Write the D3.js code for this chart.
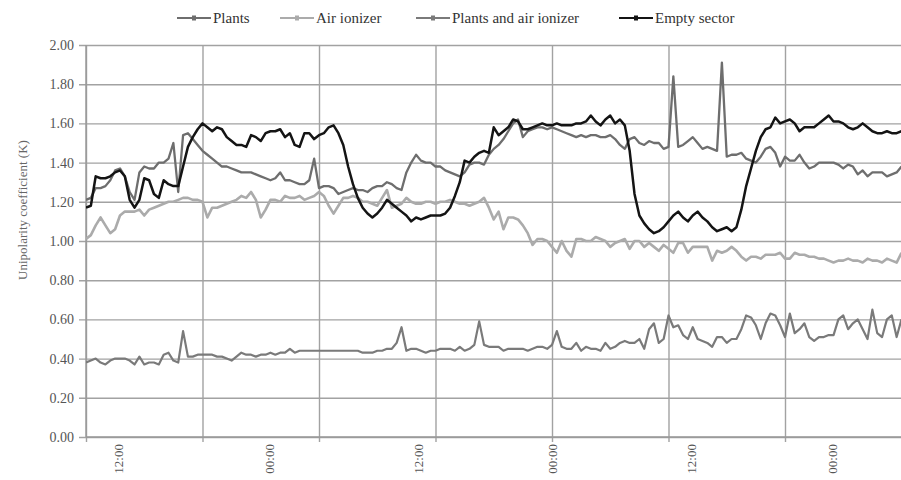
<!DOCTYPE html>
<html><head><meta charset="utf-8">
<script src="https://cdn.jsdelivr.net/npm/d3@7"></script>
<style>
html,body{margin:0;padding:0;background:#fff;}
svg{display:block;font-family:"Liberation Serif","Times New Roman",serif;}
</style></head>
<body>
<svg id="chart" width="901" height="480"></svg>
<script>
// ---- data (sample index 0..168) ----
const seriesNames = ["Plants", "Air ionizer", "Plants and air ionizer", "Empty sector"];
const yTickValues = [0,0.2,0.4,0.6,0.8,1.0,1.2,1.4,1.6,1.8,2.0];
const xTickLabels = ["12:00","00:00","12:00","00:00","12:00","00:00"];
const xLabelAt = [6.6, 37.7, 68.6, 96, 124.8, 153.7];
const xGridAt = [0,24,48,72,96,120,144,168];

const plants = [1.21,1.22,1.27,1.27,1.28,1.31,1.36,1.37,1.33,1.25,1.21,1.35,1.38,1.37,1.37,1.40,1.40,1.42,1.50,1.25,
1.54,1.55,1.52,1.49,1.46,1.44,1.42,1.40,1.38,1.38,1.37,1.36,1.35,1.35,1.35,1.34,1.33,1.32,1.31,1.32,
1.35,1.31,1.31,1.30,1.29,1.29,1.31,1.42,1.27,1.28,1.28,1.27,1.24,1.25,1.26,1.27,1.26,1.26,1.25,1.27,
1.28,1.28,1.30,1.29,1.27,1.26,1.35,1.40,1.44,1.41,1.40,1.40,1.38,1.38,1.36,1.35,1.34,1.33,1.35,1.39,
1.40,1.40,1.39,1.44,1.47,1.49,1.52,1.56,1.60,1.62,1.53,1.56,1.57,1.58,1.58,1.57,1.58,1.57,1.56,1.55,
1.54,1.53,1.54,1.53,1.54,1.54,1.53,1.53,1.54,1.52,1.49,1.47,1.52,1.53,1.50,1.49,1.51,1.50,1.50,1.47,
1.48,1.84,1.48,1.49,1.51,1.53,1.50,1.47,1.48,1.47,1.46,1.91,1.43,1.44,1.44,1.45,1.42,1.41,1.40,1.43,
1.47,1.48,1.45,1.38,1.43,1.41,1.41,1.44,1.40,1.37,1.38,1.40,1.40,1.40,1.40,1.39,1.37,1.39,1.38,1.34,
1.36,1.33,1.35,1.35,1.35,1.33,1.34,1.35,1.38];

const airIonizer = [1.01,1.03,1.08,1.12,1.08,1.04,1.06,1.13,1.15,1.15,1.15,1.16,1.13,1.16,1.17,1.18,1.19,1.20,1.20,1.21,
1.22,1.22,1.21,1.21,1.20,1.12,1.17,1.17,1.18,1.19,1.20,1.21,1.23,1.22,1.25,1.21,1.12,1.16,1.21,1.21,
1.20,1.23,1.22,1.22,1.23,1.21,1.22,1.23,1.25,1.23,1.18,1.14,1.18,1.22,1.22,1.23,1.22,1.20,1.20,1.19,
1.18,1.22,1.26,1.17,1.18,1.19,1.22,1.20,1.19,1.19,1.20,1.20,1.19,1.20,1.20,1.21,1.20,1.19,1.19,1.18,
1.19,1.20,1.22,1.17,1.11,1.15,1.06,1.12,1.12,1.11,1.08,1.04,0.98,1.01,1.01,1.00,0.97,0.94,1.00,0.95,
0.92,1.01,1.01,1.00,1.00,1.02,1.01,1.00,0.97,0.99,1.00,1.01,0.96,1.00,1.00,0.97,0.99,0.97,0.95,0.98,
0.96,0.94,0.99,0.99,0.94,0.97,0.97,0.97,0.97,0.90,0.95,0.94,0.95,0.97,0.95,0.92,0.90,0.92,0.92,0.91,
0.93,0.93,0.93,0.94,0.91,0.91,0.94,0.93,0.93,0.92,0.92,0.91,0.91,0.90,0.89,0.90,0.90,0.91,0.90,0.90,
0.89,0.91,0.90,0.90,0.89,0.91,0.90,0.89,0.94];

const plantsAndIonizer = [0.38,0.39,0.40,0.38,0.37,0.39,0.40,0.40,0.40,0.39,0.37,0.41,0.37,0.38,0.38,0.37,0.42,0.43,0.39,0.38,
0.54,0.41,0.41,0.42,0.42,0.42,0.42,0.41,0.41,0.40,0.39,0.41,0.43,0.42,0.42,0.41,0.42,0.42,0.43,0.42,
0.43,0.43,0.45,0.43,0.44,0.44,0.44,0.44,0.44,0.44,0.44,0.44,0.44,0.44,0.44,0.44,0.44,0.43,0.43,0.43,
0.44,0.44,0.45,0.45,0.48,0.56,0.44,0.45,0.45,0.44,0.43,0.44,0.44,0.45,0.45,0.45,0.44,0.46,0.44,0.45,
0.47,0.59,0.47,0.46,0.46,0.46,0.44,0.45,0.45,0.45,0.45,0.44,0.45,0.46,0.46,0.45,0.47,0.54,0.46,0.45,
0.45,0.48,0.44,0.46,0.45,0.45,0.44,0.48,0.45,0.46,0.48,0.49,0.48,0.48,0.50,0.45,0.55,0.58,0.48,0.50,
0.62,0.56,0.57,0.52,0.50,0.56,0.50,0.49,0.48,0.46,0.51,0.51,0.48,0.50,0.50,0.55,0.62,0.61,0.57,0.50,
0.58,0.63,0.62,0.57,0.51,0.63,0.53,0.55,0.58,0.51,0.49,0.51,0.51,0.52,0.52,0.60,0.62,0.55,0.58,0.60,
0.55,0.50,0.65,0.53,0.51,0.60,0.62,0.51,0.60];

const emptySector = [1.17,1.18,1.33,1.32,1.32,1.33,1.35,1.36,1.33,1.21,1.17,1.21,1.32,1.31,1.24,1.22,1.31,1.29,1.28,1.28,
1.38,1.48,1.53,1.57,1.60,1.58,1.56,1.58,1.57,1.53,1.51,1.49,1.49,1.48,1.54,1.53,1.51,1.55,1.56,1.56,
1.57,1.53,1.55,1.49,1.48,1.55,1.55,1.52,1.54,1.55,1.58,1.59,1.55,1.49,1.38,1.29,1.22,1.17,1.14,1.12,
1.14,1.17,1.21,1.19,1.17,1.15,1.13,1.10,1.12,1.11,1.12,1.13,1.13,1.13,1.14,1.17,1.23,1.30,1.41,1.40,
1.43,1.45,1.46,1.45,1.58,1.54,1.56,1.58,1.62,1.61,1.57,1.57,1.58,1.59,1.60,1.59,1.59,1.60,1.59,1.59,
1.59,1.60,1.60,1.61,1.64,1.61,1.59,1.62,1.64,1.60,1.62,1.59,1.46,1.24,1.13,1.09,1.06,1.04,1.05,1.07,
1.10,1.13,1.15,1.12,1.10,1.13,1.15,1.12,1.10,1.07,1.05,1.06,1.07,1.05,1.07,1.16,1.28,1.37,1.46,1.53,
1.57,1.58,1.63,1.60,1.61,1.62,1.60,1.56,1.58,1.58,1.58,1.60,1.62,1.64,1.61,1.61,1.60,1.58,1.57,1.58,
1.60,1.58,1.56,1.55,1.55,1.56,1.55,1.55,1.56];

const seriesValues = [plants, airIonizer, plantsAndIonizer, emptySector];
const seriesColors = ["#6e6e6e", "#ababab", "#7a7a7a", "#141414"];
const seriesWidths = [2.3, 2.6, 2.2, 2.5];

// ---- drawing ----
const svg = d3.select("#chart");
const m = {left: 86, right: 901.5, top: 45, bottom: 437};
const x = d3.scaleLinear().domain([0, 168]).range([m.left, m.right]);
const y = d3.scaleLinear().domain([0, 2]).range([m.bottom, m.top]);

const defs = svg.append("defs");
defs.append("clipPath").attr("id","plotclip").append("rect")
  .attr("x", m.left).attr("y", m.top - 20).attr("width", 901 - m.left).attr("height", m.bottom - m.top + 20);

// horizontal gridlines via y axis
const yAxis = d3.axisLeft(y).tickValues(yTickValues).tickFormat(d3.format(".2f"))
  .tickSize(-(901 - m.left)).tickPadding(12);
const gy = svg.append("g").attr("transform", `translate(${m.left},0)`).call(yAxis);
gy.select(".domain").remove();
gy.selectAll(".tick line").attr("stroke", "#a2a2a2").attr("stroke-width", 1.4).attr("x1", -7);
gy.selectAll(".tick text").attr("fill", "#555").attr("font-size", 14)
  .attr("font-family", "Liberation Serif, serif");

// vertical gridlines
const gx = svg.append("g").attr("transform", `translate(0,${m.bottom})`)
  .call(d3.axisBottom(x).tickValues(xGridAt).tickFormat("").tickSize(-(m.bottom - m.top)));
gx.select(".domain").remove();
gx.selectAll(".tick line").attr("stroke", "#a2a2a2").attr("stroke-width", 1.4).attr("y1", 5);

// axis lines
svg.append("line").attr("x1", m.left).attr("x2", m.left).attr("y1", m.top).attr("y2", m.bottom)
  .attr("stroke", "#999").attr("stroke-width", 1.4);
svg.append("line").attr("x1", m.left).attr("x2", 901).attr("y1", m.bottom).attr("y2", m.bottom)
  .attr("stroke", "#999").attr("stroke-width", 1.4);

// x labels (rotated)
const xl = svg.append("g");
xTickLabels.forEach((t, k) => {
  xl.append("text").text(t)
    .attr("transform", `translate(${x(xLabelAt[k]) + 4.5},444) rotate(-90)`)
    .attr("text-anchor", "end").attr("font-size", 13).attr("fill", "#555");
});

// y title
svg.append("text").text("Unipolarity coefficient (K)")
  .attr("transform", "translate(27,210) rotate(-90)")
  .attr("text-anchor", "middle").attr("font-size", 13).attr("fill", "#666");

// lines
const line = d3.line().x((d, i) => x(i)).y(d => y(d)).curve(d3.curveLinear);
const plot = svg.append("g").attr("clip-path", "url(#plotclip)");
[1, 2, 0, 3].forEach(k => {
  plot.append("path").datum(seriesValues[k]).attr("d", line)
    .attr("fill", "none").attr("stroke", seriesColors[k]).attr("stroke-width", seriesWidths[k])
    .attr("stroke-linejoin", "round");
});

// legend
const legendX = [177, 280, 416, 619];
const lg = svg.append("g");
seriesNames.forEach((n, k) => {
  const g = lg.append("g").attr("transform", `translate(${legendX[k]},18)`);
  g.append("line").attr("x1", 0).attr("x2", 34).attr("y1", 0).attr("y2", 0)
    .attr("stroke", seriesColors[k]).attr("stroke-width", 2);
  g.append("rect").attr("x", 15).attr("y", -2.5).attr("width", 4).attr("height", 5)
    .attr("fill", seriesColors[k]);
  g.append("text").text(n).attr("x", 36).attr("y", 5)
    .attr("font-size", 15).attr("fill", "#333");
});
</script>
</body></html>
